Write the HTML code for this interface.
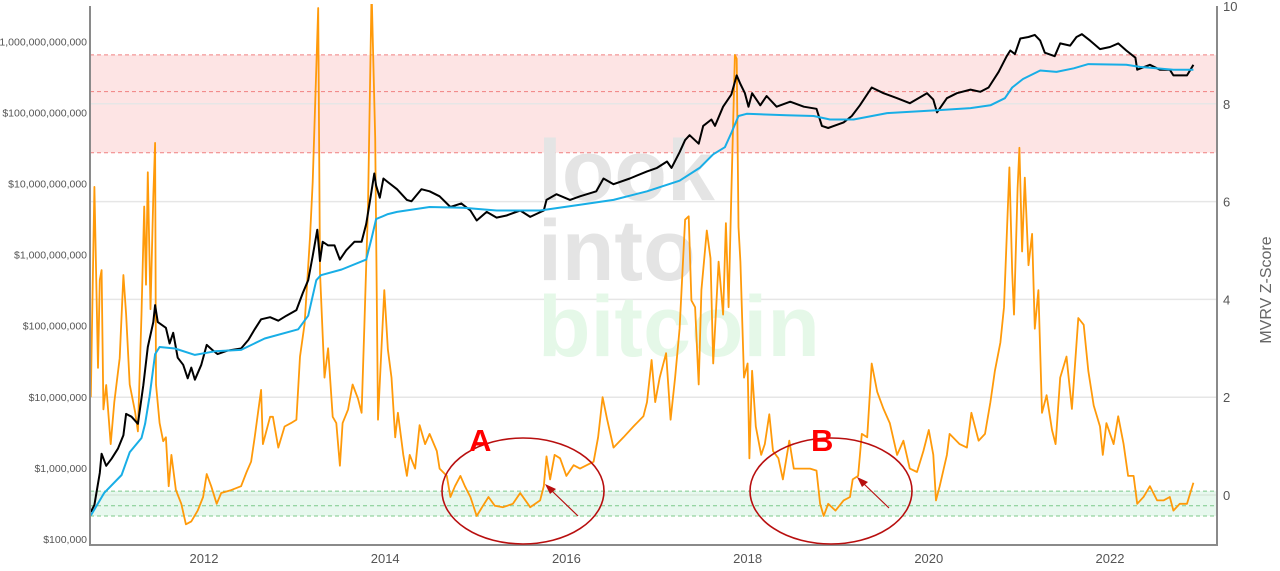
<!DOCTYPE html>
<html><head><meta charset="utf-8"><style>
html,body{margin:0;padding:0;background:#fff;}
svg{display:block;font-family:"Liberation Sans",sans-serif;}
</style></head><body>
<svg id="chart" width="1280" height="571" viewBox="0 0 1280 571">
<g id="bands"></g>
<g id="grid"></g>
<g font-weight="bold" font-size="86">
<text x="538" y="200" fill="#e4e4e4">look</text>
<text x="538" y="280" fill="#e4e4e4">into</text>
<text x="538" y="356" fill="#e5f8e8">bitcoin</text>
</g>
<g id="series"></g>
<g id="axes"></g>
<g>
<ellipse cx="523" cy="491" rx="81" ry="53" fill="none" stroke="#b80f0f" stroke-width="1.6"/>
<ellipse cx="831" cy="491" rx="81" ry="53" fill="none" stroke="#b80f0f" stroke-width="1.6"/>
<text x="469" y="451" font-size="31" font-weight="bold" fill="#ff0000">A</text>
<text x="811" y="451" font-size="31" font-weight="bold" fill="#ff0000">B</text>
<line x1="578" y1="516" x2="551" y2="490" stroke="#b80f0f" stroke-width="1.2"/>
<polygon points="545,484 556,489 550,494" fill="#b80f0f"/>
<line x1="889" y1="508" x2="863" y2="483" stroke="#b80f0f" stroke-width="1.2"/>
<polygon points="857,477 868,482 862,487" fill="#b80f0f"/>
</g>
<text transform="translate(1271,290) rotate(-90)" text-anchor="middle" font-size="16" fill="#666">MVRV Z-Score</text>
</svg>
<script>
// ---- data ----
const zDates = [2010.75,2010.79,2010.83,2010.85,2010.87,2010.89,2010.92,2010.97,2011.01,2011.07,2011.11,2011.14,2011.18,2011.24,2011.27,2011.31,2011.34,2011.36,2011.38,2011.41,2011.44,2011.46,2011.47,2011.51,2011.55,2011.58,2011.61,2011.64,2011.69,2011.75,2011.80,2011.86,2011.93,2011.99,2012.03,2012.08,2012.14,2012.19,2012.30,2012.41,2012.47,2012.52,2012.56,2012.63,2012.65,2012.73,2012.76,2012.82,2012.89,2012.96,2013.02,2013.06,2013.11,2013.17,2013.20,2013.26,2013.28,2013.33,2013.37,2013.42,2013.46,2013.50,2013.53,2013.59,2013.64,2013.70,2013.74,2013.77,2013.81,2013.85,2013.89,2013.92,2013.99,2014.03,2014.07,2014.11,2014.14,2014.20,2014.24,2014.27,2014.33,2014.38,2014.44,2014.49,2014.57,2014.60,2014.68,2014.72,2014.77,2014.83,2014.88,2014.94,2015.01,2015.07,2015.14,2015.21,2015.30,2015.41,2015.49,2015.60,2015.71,2015.75,2015.78,2015.82,2015.87,2015.93,2016.00,2016.08,2016.15,2016.30,2016.35,2016.40,2016.45,2016.52,2016.63,2016.74,2016.85,2016.89,2016.94,2016.98,2017.03,2017.10,2017.15,2017.20,2017.25,2017.31,2017.35,2017.38,2017.42,2017.46,2017.49,2017.55,2017.59,2017.62,2017.68,2017.73,2017.76,2017.79,2017.82,2017.86,2017.88,2017.90,2017.92,2017.96,2018.00,2018.02,2018.05,2018.09,2018.15,2018.19,2018.24,2018.28,2018.34,2018.39,2018.46,2018.51,2018.60,2018.69,2018.76,2018.80,2018.84,2018.89,2018.97,2019.06,2019.13,2019.16,2019.22,2019.26,2019.32,2019.37,2019.43,2019.50,2019.57,2019.65,2019.72,2019.79,2019.87,2019.94,2020.00,2020.05,2020.08,2020.12,2020.20,2020.23,2020.34,2020.42,2020.47,2020.55,2020.62,2020.68,2020.73,2020.79,2020.83,2020.89,2020.92,2020.94,2020.98,2021.00,2021.03,2021.06,2021.10,2021.14,2021.17,2021.21,2021.25,2021.30,2021.36,2021.40,2021.45,2021.52,2021.58,2021.65,2021.71,2021.76,2021.82,2021.89,2021.92,2021.96,2022.04,2022.09,2022.15,2022.20,2022.26,2022.30,2022.37,2022.44,2022.52,2022.59,2022.66,2022.70,2022.77,2022.85,2022.92];
const zScores = [2.0,6.3,2.6,4.4,4.6,1.75,2.25,1.04,1.9,2.8,4.5,3.7,2.26,1.7,1.3,3.7,5.9,4.3,6.6,3.8,6.1,7.2,2.26,1.47,1.1,1.18,0.18,0.82,0.1,-0.18,-0.6,-0.54,-0.32,-0.04,0.43,0.18,-0.18,0.04,0.1,0.18,0.47,0.68,1.18,2.15,1.04,1.6,1.6,0.97,1.4,1.47,1.54,2.83,3.5,5.27,6.4,9.96,4.55,2.4,3.0,1.6,1.47,0.6,1.47,1.75,2.26,1.97,1.68,3.48,5.9,10.3,7.3,1.54,4.19,2.97,2.4,1.18,1.68,0.82,0.39,0.82,0.54,1.43,1.04,1.25,0.9,0.54,0.39,-0.04,0.18,0.39,0.18,-0.04,-0.43,-0.25,-0.04,-0.22,-0.25,-0.18,0.04,-0.25,-0.11,0.18,0.79,0.32,0.82,0.75,0.39,0.61,0.54,0.68,1.18,2.0,1.54,0.97,1.18,1.4,1.61,1.9,2.76,1.9,2.4,2.9,1.54,2.4,3.4,5.63,5.7,3.98,3.84,2.26,4.19,5.41,4.84,2.69,4.77,3.69,5.56,3.84,6.13,9.0,8.92,5.48,4.77,2.4,2.69,0.75,2.54,1.4,0.82,1.04,1.65,0.9,0.75,0.32,1.11,0.54,0.54,0.54,0.5,-0.18,-0.43,-0.18,-0.32,-0.11,-0.04,0.32,0.39,1.25,1.18,2.69,2.11,1.76,1.47,0.82,1.11,0.54,0.47,0.9,1.33,0.82,-0.11,0.18,0.82,1.25,1.04,0.97,1.68,1.11,1.25,1.9,2.54,3.12,3.84,6.7,4.55,3.69,6.27,7.1,4.98,6.49,4.7,5.34,3.4,4.19,1.68,2.04,1.33,1.04,2.4,2.83,1.76,3.62,3.48,2.54,1.83,1.4,0.82,1.47,1.04,1.61,1.04,0.39,0.39,-0.18,-0.04,0.18,-0.11,-0.11,-0.04,-0.32,-0.18,-0.18,0.25];

const mcDates = [2010.75,2010.79,2010.85,2010.87,2010.92,2010.98,2011.05,2011.11,2011.14,2011.20,2011.27,2011.33,2011.38,2011.44,2011.46,2011.49,2011.58,2011.62,2011.66,2011.71,2011.77,2011.82,2011.86,2011.90,2011.97,2012.03,2012.10,2012.15,2012.26,2012.41,2012.49,2012.56,2012.63,2012.73,2012.82,2012.91,2013.02,2013.09,2013.15,2013.20,2013.25,2013.28,2013.31,2013.37,2013.44,2013.50,2013.57,2013.66,2013.74,2013.79,2013.84,2013.88,2013.90,2013.94,2013.98,2014.03,2014.13,2014.24,2014.29,2014.40,2014.49,2014.60,2014.72,2014.84,2014.94,2015.01,2015.12,2015.23,2015.34,2015.49,2015.60,2015.75,2015.78,2015.89,2016.04,2016.15,2016.33,2016.41,2016.52,2016.70,2016.89,2017.00,2017.11,2017.16,2017.25,2017.31,2017.36,2017.46,2017.51,2017.60,2017.64,2017.73,2017.82,2017.88,2017.92,2017.97,2018.01,2018.05,2018.14,2018.21,2018.32,2018.47,2018.62,2018.76,2018.82,2018.89,2019.06,2019.15,2019.24,2019.37,2019.50,2019.65,2019.79,2019.98,2020.05,2020.09,2020.20,2020.31,2020.46,2020.57,2020.66,2020.77,2020.86,2020.90,2020.95,2021.01,2021.10,2021.17,2021.23,2021.28,2021.39,2021.45,2021.56,2021.63,2021.69,2021.78,2021.89,2022.00,2022.09,2022.18,2022.28,2022.30,2022.44,2022.55,2022.66,2022.70,2022.85,2022.92];
const marketCapLog10 = [5.38,5.48,5.93,6.20,6.03,6.13,6.27,6.46,6.76,6.72,6.62,7.16,7.70,8.05,8.29,8.05,7.97,7.75,7.90,7.55,7.45,7.26,7.41,7.24,7.45,7.73,7.65,7.60,7.65,7.68,7.80,7.95,8.09,8.12,8.07,8.14,8.22,8.46,8.64,8.98,9.35,8.91,9.18,9.13,9.13,8.93,9.06,9.18,9.18,9.43,9.82,10.14,9.97,9.80,10.07,10.02,9.92,9.77,9.75,9.92,9.89,9.82,9.67,9.72,9.62,9.48,9.60,9.52,9.55,9.62,9.53,9.62,9.77,9.85,9.77,9.82,9.89,10.07,9.99,10.07,10.17,10.22,10.31,10.22,10.44,10.61,10.68,10.56,10.81,10.90,10.81,11.08,11.25,11.52,11.40,11.27,11.08,11.27,11.10,11.23,11.08,11.15,11.08,11.05,10.81,10.78,10.86,10.95,11.10,11.35,11.27,11.20,11.13,11.27,11.18,11.00,11.20,11.27,11.32,11.29,11.35,11.57,11.79,11.87,11.82,12.04,12.06,12.09,12.01,11.84,11.79,11.97,11.94,12.06,12.10,12.01,11.89,11.92,11.97,11.87,11.77,11.60,11.67,11.60,11.60,11.52,11.52,11.67];

const rcDates = [2010.75,2010.90,2011.09,2011.18,2011.31,2011.35,2011.40,2011.46,2011.51,2011.68,2011.90,2012.12,2012.41,2012.67,2013.04,2013.15,2013.24,2013.29,2013.52,2013.79,2013.85,2013.90,2014.03,2014.13,2014.49,2014.86,2015.23,2015.71,2016.15,2016.52,2016.89,2017.25,2017.47,2017.62,2017.75,2017.82,2017.90,2017.99,2018.43,2018.73,2018.91,2019.17,2019.54,2020.09,2020.46,2020.68,2020.84,2020.92,2021.04,2021.23,2021.41,2021.60,2021.76,2022.18,2022.33,2022.70,2022.92];
const realizedCapLog10 = [5.33,5.65,5.90,6.22,6.42,6.62,7.01,7.60,7.70,7.68,7.59,7.64,7.66,7.82,7.95,8.14,8.64,8.71,8.79,8.93,9.23,9.50,9.57,9.60,9.67,9.66,9.62,9.62,9.70,9.77,9.89,10.04,10.22,10.41,10.51,10.71,10.95,10.98,10.96,10.95,10.90,10.90,10.99,11.03,11.06,11.10,11.20,11.35,11.47,11.59,11.57,11.62,11.68,11.67,11.64,11.60,11.60];

const xTickYears = [2012,2014,2016,2018,2020,2022];
const zTicks = [0,2,4,6,8,10];
const capTickLog10 = [5,6,7,8,9,10,11,12];
const capTickLabels = ["$100,000","$1,000,000","$10,000,000","$100,000,000","$1,000,000,000","$10,000,000,000","$100,000,000,000","$1,000,000,000,000"];
const redBand = [7,8.25,9];
const greenBand = [-0.43,-0.22,0.08];

// ---- scales ----
const L=90,R=1217,B=545,T=4;
function xS(yr){return 204+(yr-2012)*90.6;}
function zS(z){return 495-z*48.9;}
function cS(lg){return 539-(lg-5)*71.1;}
const NS="http://www.w3.org/2000/svg";
function mk(tag,parent,attrs){const e=document.createElementNS(NS,tag);for(const k in attrs)e.setAttribute(k,attrs[k]);parent.appendChild(e);return e;}

const bands=document.getElementById('bands');
let r=mk('rect',bands,{x:L,y:zS(redBand[2]),width:R-L,height:zS(redBand[0])-zS(redBand[2]),fill:'#fde4e4'});


let g=mk('rect',bands,{x:L,y:zS(greenBand[2]),width:R-L,height:zS(greenBand[0])-zS(greenBand[2]),fill:'#e7f8ee'});


redBand.forEach(v=>{const l=mk('line',bands,{x1:L,x2:R,y1:zS(v),y2:zS(v),stroke:'#f08080','stroke-width':1,'stroke-dasharray':'4,3'});

});
greenBand.forEach(v=>{const l=mk('line',bands,{x1:L,x2:R,y1:zS(v),y2:zS(v),stroke:'#7cc98a','stroke-width':1,'stroke-dasharray':'4,3'});

});

const grid=document.getElementById('grid');
zTicks.forEach(v=>{if(v===10)return;const l=mk('line',grid,{x1:L,x2:R,y1:zS(v),y2:zS(v),stroke:v===0?'#d8e8dc':'#e6e6e6','stroke-width':1.5});

});

const ser=document.getElementById('series');
function path(xs,ys,fx,fy){return xs.map((x,i)=>(i?'L':'M')+xS(x).toFixed(1)+','+fy(ys[i]).toFixed(1)).join('');}
const cp=mk('clipPath',ser,{id:'clip'});mk('rect',cp,{x:L,y:T,width:R-L,height:B-T});
let p1=mk('path',ser,{d:path(zDates,zScores,xS,zS),fill:'none',stroke:'#ff9a0a','stroke-width':1.8,'stroke-linejoin':'round','clip-path':'url(#clip)'});


let p3=mk('path',ser,{d:path(mcDates,marketCapLog10,xS,cS),fill:'none',stroke:'#000','stroke-width':2,'stroke-linejoin':'round'});


let p2=mk('path',ser,{d:path(rcDates,realizedCapLog10,xS,cS),fill:'none',stroke:'#18aee6','stroke-width':2,'stroke-linejoin':'round'});



const ax=document.getElementById('axes');
let a1=mk('polyline',ax,{points:`${L},${T+2} ${L},${B} ${R},${B} ${R},${T+2}`,fill:'none',stroke:'#8a8a8a','stroke-width':2});


xTickYears.forEach(y=>{const t=mk('text',ax,{x:xS(y),y:563,'text-anchor':'middle','font-size':13,fill:'#555'});t.textContent=String(y);

});
zTicks.forEach(v=>{const t=mk('text',ax,{x:1223,y:zS(v)+5,'font-size':13,fill:'#555'});t.textContent=String(v);

});
capTickLog10.forEach((v,i)=>{const t=mk('text',ax,{x:87,y:cS(v)+4,'text-anchor':'end','font-size':10.5,fill:'#555'});t.textContent=capTickLabels[i];

});
</script>
</body></html>
